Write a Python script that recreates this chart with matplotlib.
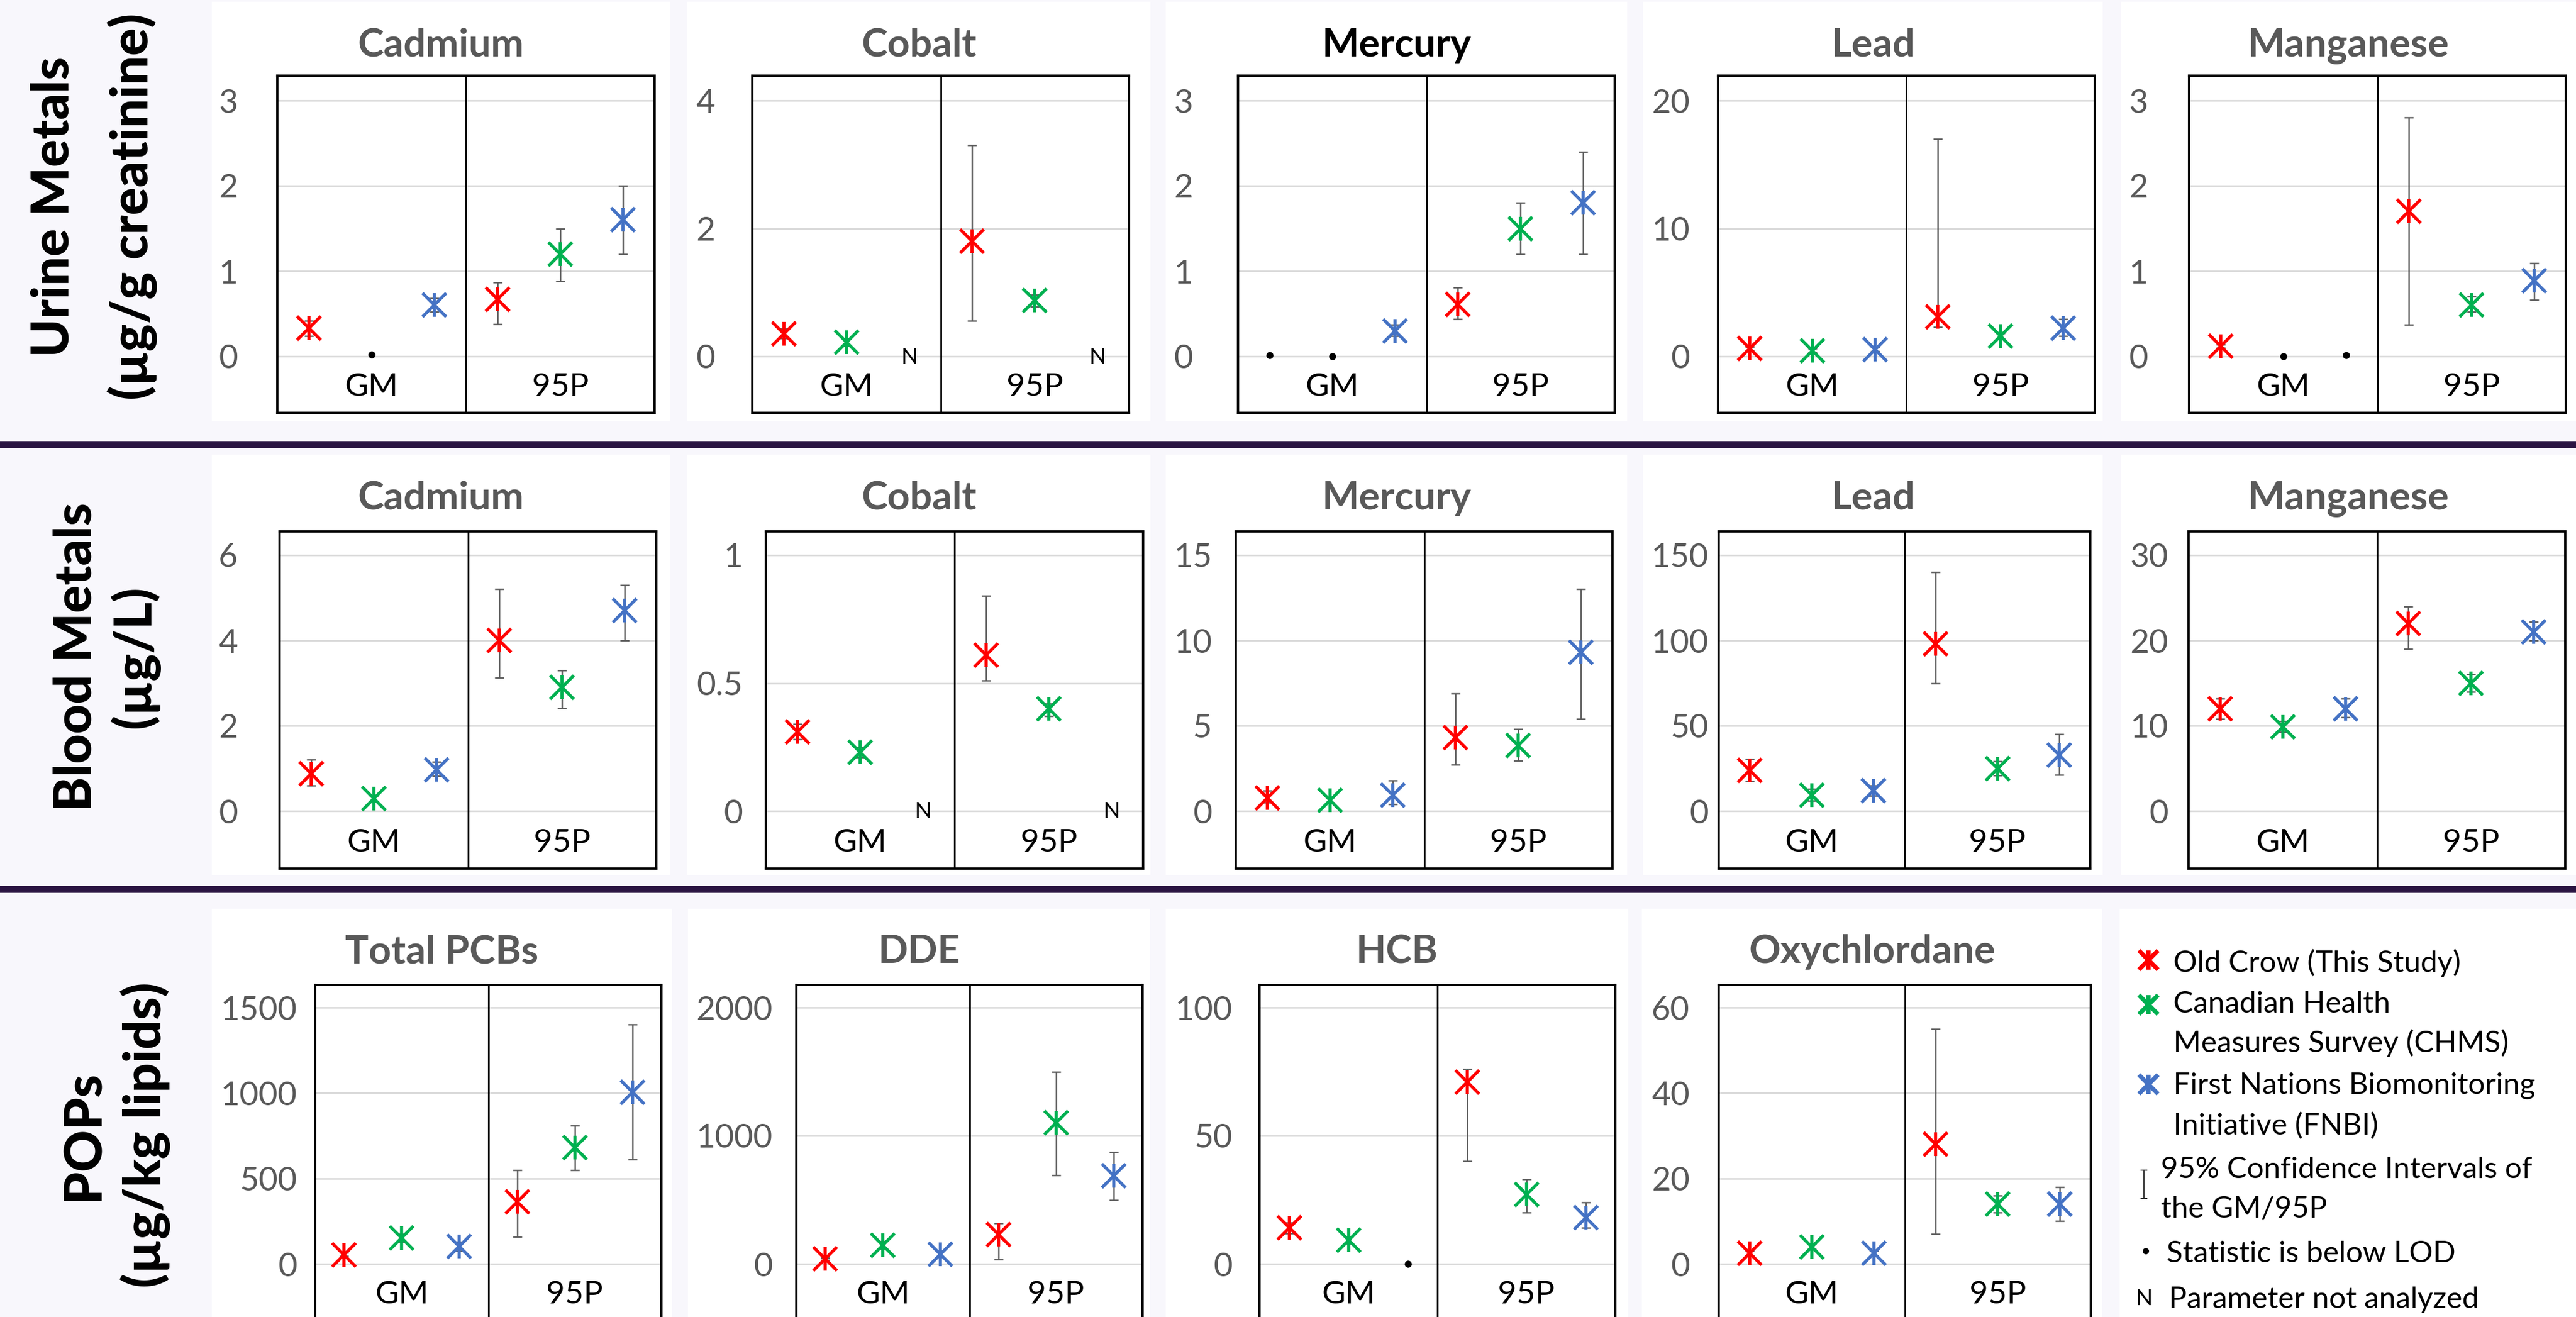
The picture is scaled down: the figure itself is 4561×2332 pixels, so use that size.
import matplotlib
matplotlib.use('Agg')
import matplotlib.pyplot as plt
import matplotlib.transforms as mtransforms
from matplotlib.patches import Rectangle
import numpy as np

plt.rcParams['font.family'] = ['Lato', 'DejaVu Sans']

W, H = 4561, 2332
nan = np.nan

colors = ['#FF0000', '#00B050', '#4472C4']
stat_labels = ['GM', '95P']
# order of values in each list: Old Crow, CHMS, FNBI at GM, then the same at 95P
# flag: '' normal, 'L' below LOD, 'N' not analyzed

# urine metals (ug/g creatinine)
urine_names = ['Cadmium', 'Cobalt', 'Mercury', 'Lead', 'Manganese']
urine_ticks = [[0, 1, 2, 3], [0, 2, 4], [0, 1, 2, 3], [0, 10, 20], [0, 1, 2, 3]]
urine_val = [[0.33, 0.02, 0.60, 0.67, 1.20, 1.60],
             [0.35, 0.22, nan, 1.80, 0.87, nan],
             [0.01, 0.00, 0.30, 0.61, 1.50, 1.80],
             [0.60, 0.45, 0.55, 3.10, 1.60, 2.20],
             [0.12, 0.00, 0.01, 1.70, 0.60, 0.89]]
urine_lo = [[0.24, nan, 0.52, 0.38, 0.88, 1.20],
            [0.28, 0.17, nan, 0.56, 0.78, nan],
            [nan, nan, 0.24, 0.44, 1.20, 1.20],
            [0.45, 0.30, 0.40, 2.30, 1.40, 1.60],
            [0.10, nan, nan, 0.37, 0.52, 0.66]]
urine_hi = [[0.42, nan, 0.68, 0.87, 1.50, 2.00],
            [0.43, 0.27, nan, 3.30, 0.96, nan],
            [nan, nan, 0.37, 0.81, 1.80, 2.40],
            [0.75, 0.60, 0.70, 17.0, 1.80, 2.90],
            [0.14, nan, nan, 2.80, 0.70, 1.09]]
urine_flag = [['', 'L', '', '', '', ''],
              ['', '', 'N', '', '', 'N'],
              ['L', 'L', '', '', '', ''],
              ['', '', '', '', '', ''],
              ['', 'L', 'L', '', '', '']]

# blood metals (ug/L)
blood_names = ['Cadmium', 'Cobalt', 'Mercury', 'Lead', 'Manganese']
blood_ticks = [[0, 2, 4, 6], [0, 0.5, 1], [0, 5, 10, 15], [0, 50, 100, 150], [0, 10, 20, 30]]
blood_val = [[0.87, 0.29, 0.97, 4.0, 2.9, 4.7],
             [0.31, 0.23, nan, 0.61, 0.40, nan],
             [0.77, 0.64, 0.93, 4.3, 3.84, 9.3],
             [24, 9.3, 12, 98, 24.8, 32.7],
             [12.0, 9.9, 12.0, 22.0, 15.0, 21.0]]
blood_lo = [[0.60, 0.22, 0.82, 3.12, 2.41, 4.0],
            [0.28, 0.21, nan, 0.51, 0.37, nan],
            [0.50, 0.50, 0.40, 2.70, 2.94, 5.4],
            [17.5, 6.0, 9.0, 75, 21, 21.3],
            [10.8, 9.3, 11.0, 19.0, 14.0, 20.0]]
blood_hi = [[1.21, 0.36, 1.15, 5.2, 3.3, 5.3],
            [0.34, 0.25, nan, 0.84, 0.42, nan],
            [1.20, 0.80, 1.80, 6.9, 4.8, 13.0],
            [30.6, 13.0, 15.0, 140, 29, 45],
            [13.2, 10.5, 13.2, 24.0, 16.0, 22.2]]
blood_flag = [['', '', '', '', '', ''],
              ['', '', 'N', '', '', 'N'],
              ['', '', '', '', '', ''],
              ['', '', '', '', '', ''],
              ['', '', '', '', '', '']]

# POPs (ug/kg lipids)
pop_names = ['Total PCBs', 'DDE', 'HCB', 'Oxychlordane']
pop_ticks = [[0, 500, 1000, 1500], [0, 1000, 2000], [0, 50, 100], [0, 20, 40, 60]]
pop_val = [[54, 151, 102, 362, 679, 1004],
           [39, 147, 77, 231, 1102, 689],
           [14, 9.2, 0.0, 71, 27, 18],
           [2.5, 4.0, 2.5, 28, 14, 14]]
pop_lo = [[45, 130, 75, 160, 549, 612],
          [30, 120, 55, 35, 693, 500],
          [12, 8, nan, 40, 20, 14],
          [2.0, 3.5, 2.0, 7, 12, 10]]
pop_hi = [[65, 175, 130, 549, 810, 1400],
          [50, 175, 100, 316, 1499, 871],
          [16, 10.5, nan, 76, 33, 24],
          [3.0, 4.6, 3.0, 55, 16, 18]]
pop_flag = [['', '', '', '', '', ''],
            ['', '', '', '', '', ''],
            ['', '', 'L', '', '', ''],
            ['', '', '', '', '', '']]

legend_labels = [['Old Crow (This Study)'],
                 ['Canadian Health', 'Measures Survey (CHMS)'],
                 ['First Nations Biomonitoring', 'Initiative (FNBI)']]

# ---- layout (pixels, from the top-left corner)
rows = [
    dict(names=urine_names, ticks=urine_ticks, val=urine_val, lo=urine_lo, hi=urine_hi, flag=urine_flag,
         label=['Urine Metals', '(µg/g creatinine)'], lab_x=[122, 262], lab_y=366,
         geom=(134, 178, 631, 731), panel_y=(3, 746), title_y=100,
         boxes=[(491, 1159), (1332, 1999), (2192, 2859), (3042, 3709), (3876, 4543)],
         gaps=[70, 66, 80, 50, 73],
         panels=[(375, 1186), (1217, 2037), (2064, 2881), (2909, 3723), (3755, 4561)]),
    dict(names=blood_names, ticks=blood_ticks, val=blood_val, lo=blood_lo, hi=blood_hi, flag=blood_flag,
         label=['Blood Metals', '(µg/L)'], lab_x=[161, 266], lab_y=1163,
         geom=(941, 983, 1436, 1538), panel_y=(805, 1550), title_y=902,
         boxes=[(495, 1162), (1356, 2024), (2188, 2855), (3043, 3701), (3875, 4542)],
         gaps=[74, 41, 42, 18, 36],
         panels=[(375, 1186), (1217, 2037), (2064, 2881), (2909, 3723), (3755, 4561)]),
    dict(names=pop_names, ticks=pop_ticks, val=pop_val, lo=pop_lo, hi=pop_hi, flag=pop_flag,
         label=['POPs', '(µg/kg lipids)'], lab_x=[175, 285], lab_y=2010,
         geom=(1744, 1784, 2238, 2338), panel_y=(1609, 2340), title_y=1705,
         boxes=[(558, 1171), (1410, 2023), (2230, 2860), (3043, 3702)],
         gaps=[32, 42, 48, 51],
         panels=[(375, 1190), (1218, 2036), (2064, 2883), (2907, 3722), (3753, 4561)]),
]

GRAY = '#595959'

fig = plt.figure(figsize=(W / 100, H / 100), dpi=100, facecolor='#F8F7FC')
bg = fig.add_axes([0, 0, 1, 1])
bg.set_xlim(0, W)
bg.set_ylim(H, 0)
bg.axis('off')

# row separators
for yc in [787, 1575]:
    bg.axhspan(yc - 6, yc + 6, color='#2B1542', lw=0)

xpos = np.array([1, 2, 3, 4, 5, 6])

for r in rows:
    py0, py1 = r['panel_y']
    for (px0, px1) in r['panels']:
        bg.add_patch(Rectangle((px0, py0), px1 - px0, py1 - py0, color='white', lw=0))
    for line, bx in zip(r['label'], r['lab_x']):
        bg.text(bx, r['lab_y'], line, rotation=90, rotation_mode='anchor', ha='center', va='baseline',
                fontsize=66, fontweight='black', color='black')

    btop, gtop, gzero, bbot = r['geom']
    for i, name in enumerate(r['names']):
        bl, br = r['boxes'][i]
        pl, pr = r['panels'][i]
        bg.text((pl + pr) / 2, r['title_y'], name, ha='center', va='baseline', fontsize=50,
                fontweight='bold', color='black' if (r is rows[0] and name == 'Mercury') else GRAY)

        ax = fig.add_axes([bl / W, 1 - bbot / H, (br - bl) / W, (bbot - btop) / H])
        T = r['ticks'][i][-1]
        G = gzero - gtop
        ax.set_ylim(-(bbot - gzero) / G * T, T + (gtop - btop) / G * T)
        ax.set_xlim(0.5, 6.5)
        ax.set_xticks([])
        ax.set_yticks(r['ticks'][i])
        ax.set_yticklabels(['%g' % t for t in r['ticks'][i]])
        ax.tick_params(axis='y', length=0, pad=r['gaps'][i] * 0.72, labelsize=42, labelcolor=GRAY)
        ax.grid(axis='y', color='#D9D9D9', lw=2)
        ax.set_axisbelow(True)
        for s in ax.spines.values():
            s.set_linewidth(3)
            s.set_color('black')
        ax.axvline(3.5, color='black', lw=2.2)

        trans = mtransforms.blended_transform_factory(ax.transData, ax.transAxes)
        for k, lab in enumerate(stat_labels):
            ax.text(2 + 3 * k, 30 / (bbot - btop), lab, transform=trans, ha='center', va='baseline',
                    fontsize=41, color='black')

        val = np.array(r['val'][i], dtype=float)
        lo = np.array(r['lo'][i], dtype=float)
        hi = np.array(r['hi'][i], dtype=float)
        flag = r['flag'][i]
        for j in range(6):
            c = colors[j % 3]
            if flag[j] == 'N':
                ax.annotate('N', (xpos[j], 0), xytext=(0, -9), textcoords='offset points',
                            ha='center', va='baseline', fontsize=28, color='black')
                continue
            if flag[j] == 'L':
                ax.plot(xpos[j], val[j], 'o', color='black', ms=8, zorder=5)
                continue
            if not np.isnan(lo[j]):
                ax.errorbar(xpos[j], val[j], yerr=[[val[j] - lo[j]], [hi[j] - val[j]]], fmt='none',
                            ecolor=GRAY, elinewidth=1.8, capsize=6, capthick=1.8, zorder=3)
            ax.plot(xpos[j], val[j], marker='x', ms=30, mew=4, color=c, ls='none', zorder=4)
            ax.plot(xpos[j], val[j], marker='|', ms=30, mew=4, color=c, ls='none', zorder=4)

# ---- legend panel
leg_icon_y = [1700, 1779, 1920]
leg_base = [[1721], [1793, 1863], [1937, 2009]]
for c, labs, ys, iy in zip(colors, legend_labels, leg_base, leg_icon_y):
    bg.plot(3804, iy, marker='x', ms=24, mew=5.5, color=c)
    bg.plot(3804, iy, marker='|', ms=24, mew=5.5, color=c)
    for lab, yb in zip(labs, ys):
        bg.text(3848, yb, lab, ha='left', va='baseline', fontsize=38, color='black')

bg.errorbar(3796, 2097, yerr=25, fmt='none', ecolor='#333333', elinewidth=1.5, capsize=4, capthick=1.5)
bg.text(3826, 2086, '95% Confidence Intervals of', ha='left', va='baseline', fontsize=38, color='black')
bg.text(3826, 2156, 'the GM/95P', ha='left', va='baseline', fontsize=38, color='black')
bg.plot(3799, 2215, 'o', color='black', ms=7)
bg.text(3836, 2235, 'Statistic is below LOD', ha='left', va='baseline', fontsize=38, color='black')
bg.text(3796, 2311, 'N', ha='center', va='baseline', fontsize=28, color='black')
bg.text(3840, 2316, 'Parameter not analyzed', ha='left', va='baseline', fontsize=38, color='black')

fig.savefig('out.png', dpi=100, facecolor=fig.get_facecolor())
